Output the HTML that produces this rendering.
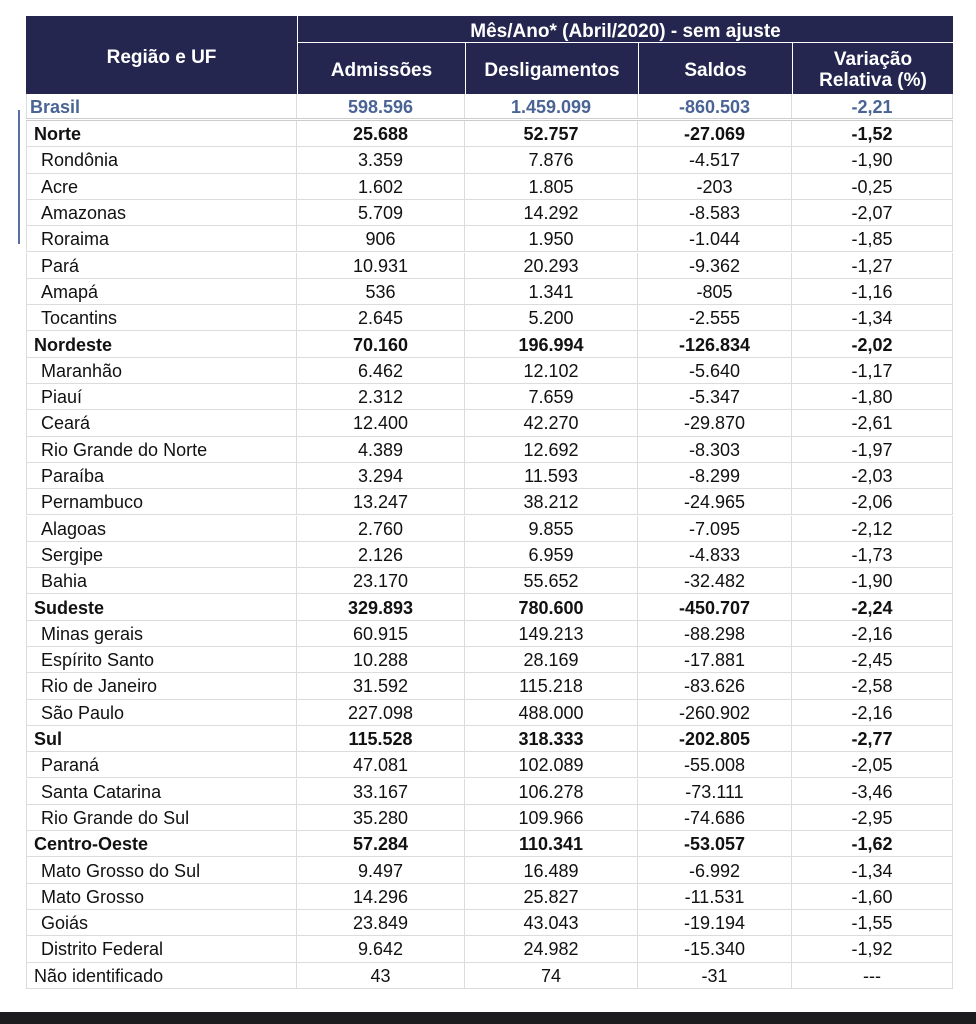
<!DOCTYPE html>
<html><head><meta charset="utf-8"><style>
*{margin:0;padding:0;box-sizing:border-box}
body{width:976px;height:1024px;background:#fff;position:relative;overflow:hidden;font-family:"Liberation Sans",sans-serif;color:#111}
.hd{position:absolute;background:#25264f;color:#fff;font-weight:bold;font-size:19px;display:flex;align-items:center;justify-content:center;text-align:center;line-height:21px}
.r{position:absolute;left:26px;width:927px;height:26.3px;border-bottom:1px solid #dcdcdc;font-size:18px;display:flex;align-items:center}
.r div{height:100%;display:flex;align-items:center;justify-content:center;border-right:1px solid #dcdcdc;padding-top:2px}
.r .n{width:271px;justify-content:flex-start;padding-left:14px;border-left:1px solid #dcdcdc}
.r.b{font-weight:bold}.r.b .n{padding-left:7px}
.c1{width:168px}.c2{width:173px}.c3{width:154px}.c4{width:161px}
</style></head><body>
<div class="hd" style="left:26px;top:16px;width:271px;height:78px;padding-top:4px">Região e UF</div>
<div class="hd" style="left:298px;top:16px;width:655px;height:26px;padding-top:4px">Mês/Ano* (Abril/2020) - sem ajuste</div>
<div class="hd" style="left:298px;top:43px;width:167px;height:51px;padding-top:4px">Admissões</div>
<div class="hd" style="left:466px;top:43px;width:172px;height:51px;padding-top:4px">Desligamentos</div>
<div class="hd" style="left:639px;top:43px;width:153px;height:51px;padding-top:4px">Saldos</div>
<div class="hd" style="left:793px;top:43px;width:160px;height:51px;padding-top:2px">Variação<br>Relativa (%)</div>
<div style="position:absolute;left:18px;top:110px;width:2px;height:134px;background:#5a6fa6"></div>
<div class="r b" style="top:94px;height:27px;color:#4a6496;border-bottom:3px double #ccc"><div class="n" style="padding-left:3px">Brasil</div><div class="c1">598.596</div><div class="c2">1.459.099</div><div class="c3">-860.503</div><div class="c4">-2,21</div></div>
<div id="rows"></div>
<script>
const d=`b|Norte|25.688|52.757|-27.069|-1,52
|Rondônia|3.359|7.876|-4.517|-1,90
|Acre|1.602|1.805|-203|-0,25
|Amazonas|5.709|14.292|-8.583|-2,07
|Roraima|906|1.950|-1.044|-1,85
|Pará|10.931|20.293|-9.362|-1,27
|Amapá|536|1.341|-805|-1,16
|Tocantins|2.645|5.200|-2.555|-1,34
b|Nordeste|70.160|196.994|-126.834|-2,02
|Maranhão|6.462|12.102|-5.640|-1,17
|Piauí|2.312|7.659|-5.347|-1,80
|Ceará|12.400|42.270|-29.870|-2,61
|Rio Grande do Norte|4.389|12.692|-8.303|-1,97
|Paraíba|3.294|11.593|-8.299|-2,03
|Pernambuco|13.247|38.212|-24.965|-2,06
|Alagoas|2.760|9.855|-7.095|-2,12
|Sergipe|2.126|6.959|-4.833|-1,73
|Bahia|23.170|55.652|-32.482|-1,90
b|Sudeste|329.893|780.600|-450.707|-2,24
|Minas gerais|60.915|149.213|-88.298|-2,16
|Espírito Santo|10.288|28.169|-17.881|-2,45
|Rio de Janeiro|31.592|115.218|-83.626|-2,58
|São Paulo|227.098|488.000|-260.902|-2,16
b|Sul|115.528|318.333|-202.805|-2,77
|Paraná|47.081|102.089|-55.008|-2,05
|Santa Catarina|33.167|106.278|-73.111|-3,46
|Rio Grande do Sul|35.280|109.966|-74.686|-2,95
b|Centro-Oeste|57.284|110.341|-53.057|-1,62
|Mato Grosso do Sul|9.497|16.489|-6.992|-1,34
|Mato Grosso|14.296|25.827|-11.531|-1,60
|Goiás|23.849|43.043|-19.194|-1,55
|Distrito Federal|9.642|24.982|-15.340|-1,92
x|Não identificado|43|74|-31|---`.split('\n');
let h='';d.forEach((l,i)=>{const p=l.split('|');const top=121+i*26.3;
h+=`<div class="r ${p[0]=='b'?'b':''}" style="top:${top}px"><div class="n" ${p[0]=='x'?'style="padding-left:7px"':''}>${p[1]}</div><div class="c1">${p[2]}</div><div class="c2">${p[3]}</div><div class="c3">${p[4]}</div><div class="c4">${p[5]}</div></div>`});
document.getElementById('rows').innerHTML=h;
</script>
<div style="position:absolute;left:0;top:1012px;width:976px;height:12px;background:#1c1c1e"></div>
</body></html>
